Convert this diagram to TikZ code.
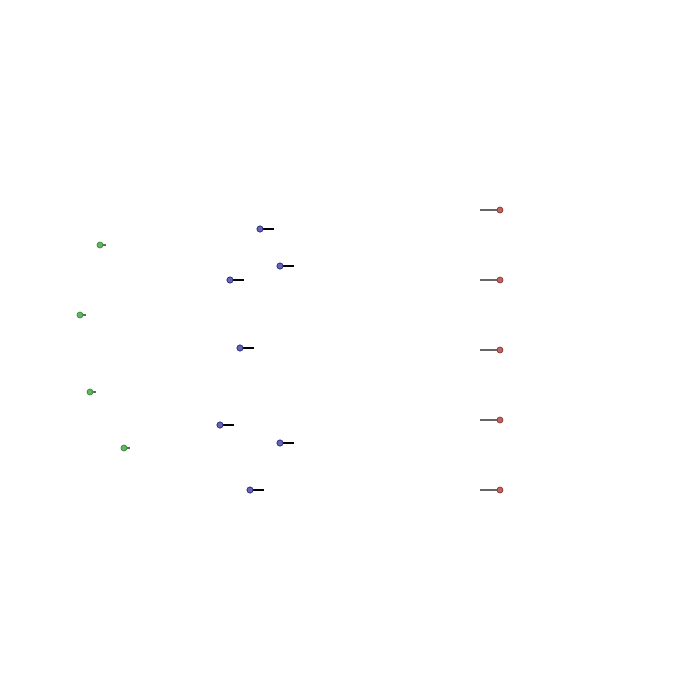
\documentclass[tikz,border=0pt]{standalone}
\begin{document}
\begin{tikzpicture}[x=0.1mm,y=-0.1mm,yshift=-0.1mm,
  neuron/.style={circle,inner sep=0pt,minimum size=0.6mm,line width=0.2pt},
  inn/.style={neuron,fill=green!50!black!60,draw=green!45!black!80},
  hid/.style={neuron,fill=blue!50!black!60,draw=blue!45!black!80},
  outn/.style={neuron,fill=red!55!black!60,draw=red!45!black!80},
  stub/.style={line width=0.4pt},
  graystub/.style={line width=0.55pt,draw=black!60}]
\useasboundingbox (0,-1) rectangle (700,699);
% input
\foreach \i/\x/\y in {1/100/244,2/80/314,3/90/391,4/124/447}{
  \coordinate (ie\i) at (\x+6,\y);
  \draw[graystub] (\x,\y) -- (ie\i);
  \node[inn] (i\i) at (\x,\y) {};
}
% hidden
\foreach \i/\x/\y in {1/260/228,2/280/265,3/230/279,4/240/347,5/220/424,6/280/442,7/250/489}{
  \coordinate (he\i) at (\x+14,\y);
  \node[hid] (h\i) at (\x,\y) {};
  \draw[stub] (h\i.center) -- (he\i);
  \node[hid] at (h\i) {};
}
% output
\foreach \i/\y in {1/209,2/279,3/349,4/419,5/489}{
  \coordinate (oe\i) at (480,\y);
  \draw[graystub] (oe\i) -- (500,\y);
  \node[outn] (o\i) at (500,\y) {};
}
\end{tikzpicture}
\end{document}
